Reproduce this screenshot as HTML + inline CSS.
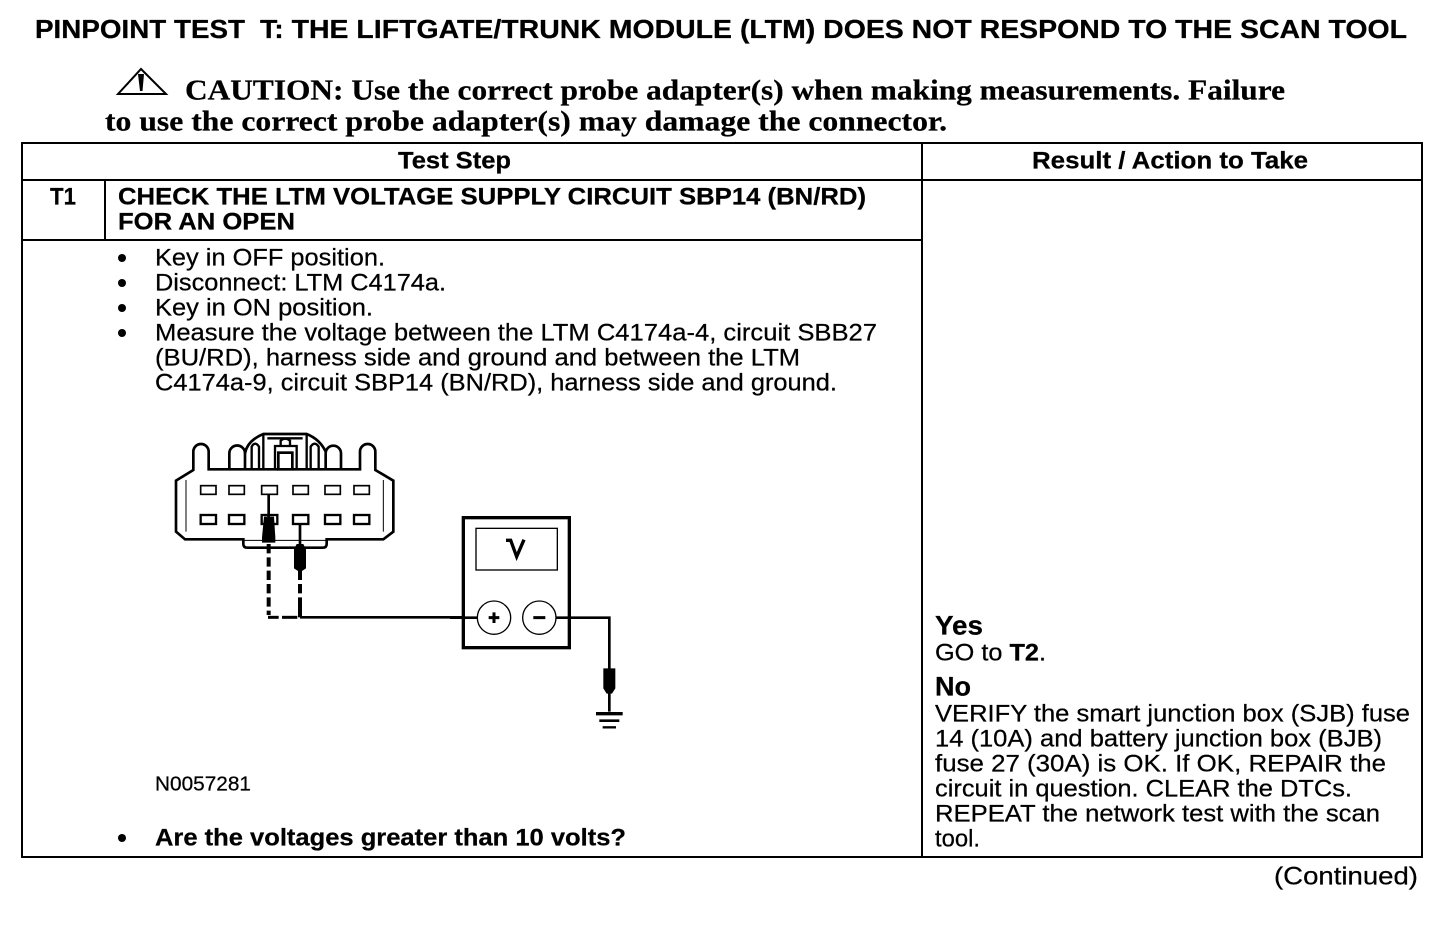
<!DOCTYPE html>
<html>
<head>
<meta charset="utf-8">
<title>Pinpoint Test T</title>
<style>
html,body{margin:0;padding:0;background:#fff;}
svg{display:block;}
text{fill:#000;stroke:#000;stroke-width:.25px;font-family:"Liberation Sans",sans-serif;font-size:24px;}
.b{font-weight:bold;}
.s{font-family:"Liberation Serif",serif;font-weight:bold;font-size:28px;}
</style>
</head>
<body>
<svg width="1456" height="928" viewBox="0 0 1456 928" xmlns="http://www.w3.org/2000/svg">
<rect width="1456" height="928" fill="#fff"/>

<g transform="translate(0,-0.5)">
<text class="b" x="35" y="38.5" style="font-size:25.5px" textLength="210" lengthAdjust="spacingAndGlyphs">PINPOINT TEST</text>
<text class="b" x="260" y="38.5" style="font-size:25.5px" textLength="1147" lengthAdjust="spacingAndGlyphs">T: THE LIFTGATE/TRUNK MODULE (LTM) DOES NOT RESPOND TO THE SCAN TOOL</text>

<text class="s" x="185" y="100" textLength="1100" lengthAdjust="spacingAndGlyphs">CAUTION: Use the correct probe adapter(s) when making measurements. Failure</text>
<text class="s" x="105" y="131" textLength="842" lengthAdjust="spacingAndGlyphs">to use the correct probe adapter(s) may damage the connector.</text>

<text class="b" x="398" y="169" textLength="113" lengthAdjust="spacingAndGlyphs">Test Step</text>
<text class="b" x="1032" y="169" textLength="276" lengthAdjust="spacingAndGlyphs">Result / Action to Take</text>
<text class="b" x="50" y="205" textLength="26" lengthAdjust="spacingAndGlyphs">T1</text>
<text class="b" x="118" y="205" textLength="748" lengthAdjust="spacingAndGlyphs">CHECK THE LTM VOLTAGE SUPPLY CIRCUIT SBP14 (BN/RD)</text>
<text class="b" x="118" y="230" textLength="177" lengthAdjust="spacingAndGlyphs">FOR AN OPEN</text>

<text x="155" y="266" textLength="230" lengthAdjust="spacingAndGlyphs">Key in OFF position.</text>
<text x="155" y="291" textLength="291" lengthAdjust="spacingAndGlyphs">Disconnect: LTM C4174a.</text>
<text x="155" y="316" textLength="218" lengthAdjust="spacingAndGlyphs">Key in ON position.</text>
<text x="155" y="341" textLength="722" lengthAdjust="spacingAndGlyphs">Measure the voltage between the LTM C4174a-4, circuit SBB27</text>
<text x="155" y="366" textLength="645" lengthAdjust="spacingAndGlyphs">(BU/RD), harness side and ground and between the LTM</text>
<text x="155" y="391" textLength="682" lengthAdjust="spacingAndGlyphs">C4174a-9, circuit SBP14 (BN/RD), harness side and ground.</text>

<text x="155" y="791" style="font-size:20px" textLength="96" lengthAdjust="spacingAndGlyphs">N0057281</text>
<text class="b" x="155" y="846" textLength="471" lengthAdjust="spacingAndGlyphs">Are the voltages greater than 10 volts?</text>

<text class="b" x="935" y="635" style="font-size:26.5px" textLength="48" lengthAdjust="spacingAndGlyphs">Yes</text>
<text x="935" y="661" textLength="111" lengthAdjust="spacingAndGlyphs">GO to <tspan style="font-weight:bold">T2</tspan>.</text>
<text class="b" x="935" y="696" style="font-size:26.5px" textLength="36" lengthAdjust="spacingAndGlyphs">No</text>
<text x="935" y="722" textLength="475" lengthAdjust="spacingAndGlyphs">VERIFY the smart junction box (SJB) fuse</text>
<text x="935" y="747" textLength="447" lengthAdjust="spacingAndGlyphs">14 (10A) and battery junction box (BJB)</text>
<text x="935" y="772" textLength="451" lengthAdjust="spacingAndGlyphs">fuse 27 (30A) is OK. If OK, REPAIR the</text>
<text x="935" y="797" textLength="417" lengthAdjust="spacingAndGlyphs">circuit in question. CLEAR the DTCs.</text>
<text x="935" y="822" textLength="445" lengthAdjust="spacingAndGlyphs">REPEAT the network test with the scan</text>
<text x="935" y="847" textLength="45" lengthAdjust="spacingAndGlyphs">tool.</text>

<text x="1274" y="885" style="font-size:25px" textLength="144" lengthAdjust="spacingAndGlyphs">(Continued)</text>
</g>

<!-- caution triangle -->
<path d="M118,94 L141,69 L166,94 Z" fill="none" stroke="#000" stroke-width="2"/>
<path d="M138,74 L144,74 L142.5,91 L140,91 Z" fill="#000"/>

<!-- table -->
<g fill="none" stroke="#000" stroke-width="2">
<rect x="22" y="143" width="1400" height="714"/>
<path d="M22,180 H1422 M922,143 V857 M105,180 V240 M22,240 H922"/>
</g>

<g fill="#000">
<circle cx="122" cy="258" r="4"/>
<circle cx="122" cy="283" r="4"/>
<circle cx="122" cy="308" r="4"/>
<circle cx="122" cy="333" r="4"/>
<circle cx="122" cy="838" r="4"/>
</g>

<!-- connector, coordinates in 3x zoom space -->
<g transform="translate(160,420) scale(0.33333)" fill="none" stroke="#000" stroke-width="8">
<path d="M355,148 L146,148 L146,95 A23,23 0 0 0 100,95 L100,150 L48,182 L48,335 L75,358 L250,358 L250,372 Q250,383 262,383 L488,383 Q500,383 500,372 L500,358 L670,358 L700,335 L700,182 L646,150 L646,95 A23,23 0 0 0 600,95 L600,148 L400,148"/>
<path d="M208,148 V100 A23,23 0 0 1 255,100 V148 M497,148 V100 A23,23 0 0 1 543,100 V148"/>
<path d="M255,100 Q262,62 310,42 L440,42 Q480,58 497,95" />
<path d="M78,180 L78,335 M670,180 L670,335" stroke-width="3"/>
<path d="M250,361 H500" stroke-width="3"/>
<path d="M275,148 V80 Q285,62 297,80 V148 M310,42 V148 M440,42 V148 M452,148 V80 Q464,62 476,80 V148" stroke-width="7"/>
<path d="M322,55 H428 M345,148 V78 H410 V148 M362,78 V62 Q375,50 390,62 V78" stroke-width="7"/>
<rect x="355" y="98" width="42" height="50" stroke-width="8"/>

<g stroke-width="5">
<rect x="122" y="197" width="46" height="26"/>
<rect x="207" y="197" width="46" height="26"/>
<rect x="305" y="197" width="47" height="26"/>
<rect x="399" y="197" width="46" height="26"/>
<rect x="495" y="197" width="46" height="26"/>
<rect x="582" y="197" width="46" height="26"/>
<rect x="122" y="285" width="46" height="27" stroke-width="7"/>
<rect x="207" y="285" width="46" height="27" stroke-width="7"/>
<rect x="305" y="285" width="47" height="27" stroke-width="7"/>
<rect x="399" y="285" width="46" height="27" stroke-width="7"/>
<rect x="495" y="285" width="46" height="27" stroke-width="7"/>
<rect x="582" y="285" width="46" height="27" stroke-width="7"/>
</g>

<path d="M326,223 V300 M420,312 V372" stroke-width="8"/>
<path d="M326,372 V585 M420,452 V585" stroke-width="12" stroke-dasharray="28,12"/>
<path d="M324,592 H356" stroke-width="9"/>
<path d="M366,592 H412" stroke-width="9"/>
<path d="M420,592 H910" stroke-width="8"/>
<path d="M420,540 V592" stroke-width="12"/>
<path d="M312,290 L342,290 L346,352 L346,368 L306,368 L306,352 Z" fill="#000" stroke="none"/>
<path d="M410,372 L430,372 L438,388 L438,445 L426,453 L414,453 L402,445 L402,388 Z" fill="#000" stroke="none"/>
</g>

<!-- meter, coordinates in 3x zoom space -->
<g transform="translate(450,505) scale(0.33333)" fill="none" stroke="#000">
<rect x="40" y="38" width="318" height="390" stroke-width="10"/>
<rect x="78" y="70" width="244" height="125" stroke-width="4"/>
<circle cx="132" cy="338" r="50" stroke-width="4" fill="#fff"/>
<circle cx="268" cy="338" r="50" stroke-width="4" fill="#fff"/>
<path d="M0,338 H82" stroke-width="8"/>
<path d="M318,338 H478 V620" stroke-width="8"/>
<path d="M116,338 H148 M132,322 V354 M250,338 H286" stroke-width="9"/>
<path d="M168,106 H182 L200,155 L222,104" stroke-width="10"/>
<path d="M460,490 H496 V550 L486,566 H470 L460,550 Z" fill="#000" stroke="none"/>
<path d="M438,626 H518" stroke-width="10"/>
<path d="M448,647 H508" stroke-width="8"/>
<path d="M458,667 H498" stroke-width="7"/>
</g>
</svg>
</body>
</html>
